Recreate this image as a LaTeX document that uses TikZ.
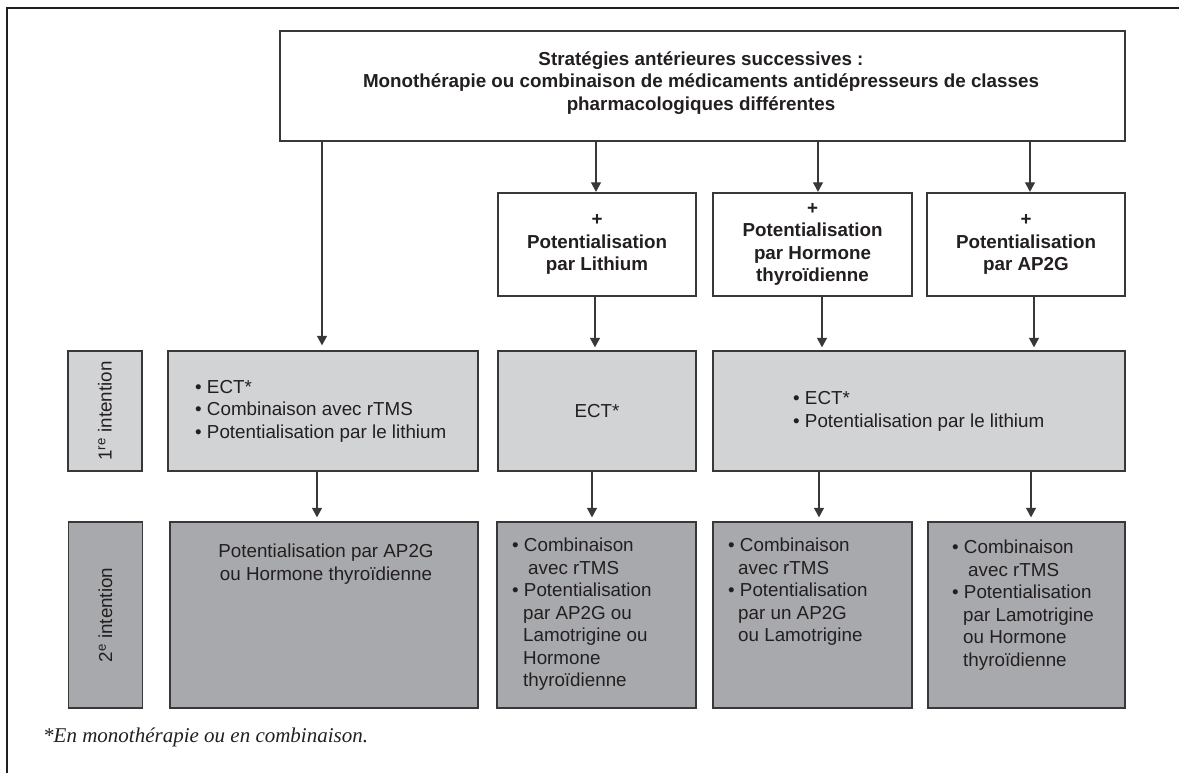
\documentclass[tikz,border=0pt]{standalone}
\usepackage{fontspec}
\setmainfont{Liberation Sans}
\newfontfamily\notefont{Liberation Serif}
\usetikzlibrary{arrows.meta}
\definecolor{ink}{HTML}{231F20}
\definecolor{edge}{HTML}{383838}
\definecolor{fillA}{HTML}{D1D3D4}
\definecolor{fillB}{HTML}{A7A9AC}
\begin{document}
\begin{tikzpicture}[x=1pt,y=-1pt,
  font=\fontsize{18.8}{22.5}\selectfont, text=ink,
  boxbase/.style={draw=edge, line width=1.3pt, inner sep=0pt, align=center},
  whitebox/.style={boxbase, fill=white},
  lightbox/.style={boxbase, fill=fillA},
  darkbox/.style={boxbase, fill=fillB},
  bfont/.style={font=\fontsize{18.8}{22.5}\selectfont\bfseries},
  txt/.style={inner sep=0pt, align=left},
  arr/.style={draw=edge, line width=1.1pt, -{Triangle[width=10pt,length=9.5pt]}}
]
\useasboundingbox (0,0) rectangle (1179,773);
% frame
\draw[line width=2.4pt, draw=ink, line join=miter] (7,773) -- (7,8) -- (1179,8);

% top box
\node[whitebox, minimum width=845pt, minimum height=110pt] (top) at (702.5,86) {};
\node[bfont, align=center, inner sep=0pt] (toptext) at (701,83)
  {Stratégies antérieures successives :\\
   Monothérapie ou combinaison de médicaments antidépresseurs de classes\\
   pharmacologiques différentes};

% potentialisation boxes
\node[whitebox, bfont, minimum width=198pt, minimum height=103pt] (lith) at (597,244.5)
  {+\\Potentialisation\\par Lithium};
\node[whitebox, bfont, minimum width=199pt, minimum height=103pt] (hor) at (812.5,244.5)
  {+\\Potentialisation\\par Hormone\\thyroïdienne};
\node[whitebox, bfont, minimum width=198pt, minimum height=103pt] (ap) at (1026,244.5)
  {+\\Potentialisation\\par AP2G};

% row 1
\node[lightbox, rotate=90, minimum width=120pt, minimum height=74pt] (l1) at (105,411)
  {1\textsuperscript{re} intention};
\node[lightbox, minimum width=310pt, minimum height=120pt] (A) at (323,411) {};
\node[txt, anchor=west] (At) at (195,411)
  {• ECT*\\• Combinaison avec rTMS\\• Potentialisation par le lithium};
\node[lightbox, minimum width=198pt, minimum height=120pt] (B) at (597,411) {ECT*};
\node[lightbox, minimum width=412pt, minimum height=120pt] (C) at (919,411) {};
\node[txt, anchor=west] (Ct) at (793,411.5)
  {• ECT*\\• Potentialisation par le lithium};

% row 2
\node[darkbox, rotate=90, minimum width=186pt, minimum height=74pt] (l2) at (105.5,615)
  {2\textsuperscript{e} intention};
\node[darkbox, minimum width=308pt, minimum height=186pt] (D) at (324,615) {};
\node[txt, align=center, anchor=north] (Dt) at (326,544)
  {Potentialisation par AP2G\\ou Hormone thyroïdienne};
\node[darkbox, minimum width=199pt, minimum height=186pt] (E) at (596.5,615) {};
\node[txt, anchor=north west] (Et) at (512,538)
  {• Combinaison\\\hspace*{16pt}avec rTMS\\• Potentialisation\\\hspace*{11pt}par AP2G ou\\\hspace*{11pt}Lamotrigine ou\\\hspace*{11pt}Hormone\\\hspace*{11pt}thyroïdienne};
\node[darkbox, minimum width=199pt, minimum height=186pt] (F) at (812.5,615) {};
\node[txt, anchor=north west] (Ft) at (728,538)
  {• Combinaison\\\hspace*{10pt}avec rTMS\\• Potentialisation\\\hspace*{10pt}par un AP2G\\\hspace*{10pt}ou Lamotrigine};
\node[darkbox, minimum width=197pt, minimum height=186pt] (G) at (1026.5,615) {};
\node[txt, anchor=north west] (Gt) at (952,540)
  {• Combinaison\\\hspace*{16pt}avec rTMS\\• Potentialisation\\\hspace*{11pt}par Lamotrigine\\\hspace*{11pt}ou Hormone\\\hspace*{11pt}thyroïdienne};

% footnote
\node[anchor=base west, inner sep=0pt, font={\notefont\itshape\fontsize{21}{25}\selectfont}] (note) at (43,742)
  {*En monothérapie ou en combinaison.};

% arrow x positions
\coordinate (c322) at (322,0);
\coordinate (c596) at (596,0);
\coordinate (c818) at (818,0);
\coordinate (c1030) at (1030,0);
\coordinate (c595) at (595,0);
\coordinate (c822) at (822,0);
\coordinate (c1034) at (1034,0);
\coordinate (c317) at (317,0);
\coordinate (c592) at (592,0);
\coordinate (c819) at (819,0);
\coordinate (c1031) at (1031,0);

% connectors
\draw[arr, shorten >=5pt] (top.south -| c322) -- (A.north -| c322);
\draw[arr, shorten >=0.5pt] (top.south -| c596) -- (lith.north -| c596);
\draw[arr, shorten >=0.5pt] (top.south -| c818) -- (hor.north -| c818);
\draw[arr, shorten >=0.5pt] (top.south -| c1030) -- (ap.north -| c1030);
\draw[arr, shorten >=3pt] (lith.south -| c595) -- (B.north -| c595);
\draw[arr, shorten >=3pt] (hor.south -| c822) -- (C.north -| c822);
\draw[arr, shorten >=3pt] (ap.south -| c1034) -- (C.north -| c1034);
\draw[arr, shorten >=4pt] (A.south -| c317) -- (D.north -| c317);
\draw[arr, shorten >=4pt] (B.south -| c592) -- (E.north -| c592);
\draw[arr, shorten >=4pt] (C.south -| c819) -- (F.north -| c819);
\draw[arr, shorten >=4pt] (C.south -| c1031) -- (G.north -| c1031);
\end{tikzpicture}
\end{document}
